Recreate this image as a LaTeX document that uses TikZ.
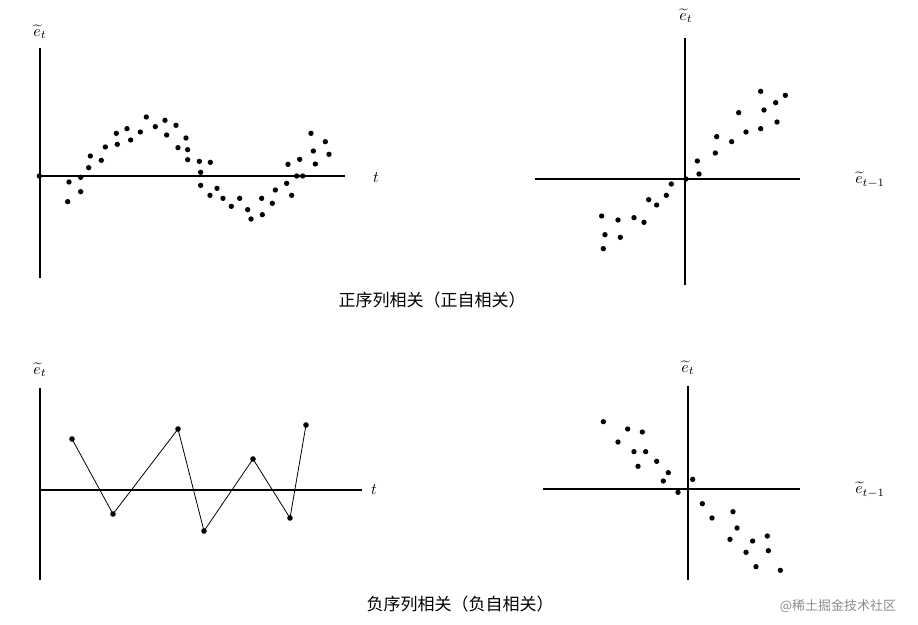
\documentclass[tikz,border=0pt]{standalone}
\usepackage{amsmath}
\usepackage{fontspec}
\newfontfamily\cjk{Noto Sans CJK SC}
\begin{document}
\begin{tikzpicture}[x=1pt,y=-1pt,
  axis/.style={line width=1.4pt},
  dot/.style={fill=black},
  lbl/.style={scale=1.6},
  caption/.style={font=\cjk\fontsize{17}{20}\selectfont}]
  \useasboundingbox (0,0) rectangle (918,624);

  % Top left: positive correlation over time
  \draw[axis] (40,48) -- (40,278);
  \draw[axis] (40,176) -- (345,176);
  \node[lbl] (tlY) at (40,32) {$\widetilde{e}_t$};
  \node[lbl] (tlX) at (376,178) {$t$};
  \begin{scope}[shift={(30,100)},scale=1/3]
    \foreach \p in {(28,228),(113,305),(117,246),(152,275),(152,232),(176,203),(181,168),(214,181),(226,141),(262,133),(259,100),(291,86),(302,120),(331,96),(349,51),(376,80),(405,61),(410,105),(438,76),(444,143),(468,114),(473,149),(473,179),(508,184),(512,217),(512,256),(541,187),(540,286),(561,265),(579,295),(604,319),(629,295),(653,329),(663,357),(695,295),(697,344),(727,310),(736,270),(770,250),(774,193),(785,286),(800,228),(809,178),(818,228),(843,100),(850,153),(856,192),(886,125),(897,163)}
      \fill[dot] \p circle (8);
  \end{scope}

  % Top right: e_t against e_{t-1}
  \draw[axis] (685,38) -- (685,285);
  \draw[axis] (535,179) -- (800,179);
  \node[lbl] (trY) at (686,16) {$\widetilde{e}_t$};
  \node[lbl] (trX) at (870,180) {$\widetilde{e}_{t-1}$};
  \begin{scope}[shift={(580,80)},scale=1/3]
    \foreach \p in {(65,408),(75,464),(70,506),(114,420),(121,472),(162,413),(192,427),(206,359),(230,375),(259,346),(274,312),(318,297),(352,243),(357,282),(406,219),(410,170),(455,185),(476,98),(498,156),(542,34),(542,146),(552,90),(587,68),(591,126),(616,46)}
      \fill[dot] \p circle (8);
  \end{scope}
  \node[caption] (capPos) at (432,300) {正序列相关（正自相关）};

  % Bottom left: negative correlation over time
  \draw[axis] (40,388) -- (40,580);
  \draw[axis] (40,490) -- (362,490);
  \node[lbl] (blY) at (40,370) {$\widetilde{e}_t$};
  \node[lbl] (blX) at (374,490) {$t$};
  \coordinate (p1) at (72,439);
  \coordinate (p2) at (113,514);
  \coordinate (p3) at (178,429);
  \coordinate (p4) at (204,531);
  \coordinate (p5) at (253,459);
  \coordinate (p6) at (290,518);
  \coordinate (p7) at (306,425);
  \draw[line width=0.8pt] (p1) -- (p2) -- (p3) -- (p4) -- (p5) -- (p6) -- (p7);
  \foreach \c in {p1,p2,p3,p4,p5,p6,p7}
    \fill[dot] (\c) circle (2.8);

  % Bottom right: e_t against e_{t-1}
  \draw[axis] (688,386) -- (688,580);
  \draw[axis] (543,489) -- (800,489);
  \node[lbl] (brY) at (688,368) {$\widetilde{e}_t$};
  \node[lbl] (brX) at (870,490) {$\widetilde{e}_{t-1}$};
  \begin{scope}[shift={(580,400)},scale=1/3]
    \foreach \p in {(70,65),(143,87),(187,96),(114,126),(162,155),(197,155),(174,199),(230,184),(265,218),(250,243),(294,277),(338,238),(367,311),(396,354),(459,335),(471,384),(450,418),(518,423),(562,408),(565,452),(498,457),(528,500),(601,511)}
      \fill[dot] \p circle (8);
  \end{scope}
  \node[caption] (capNeg) at (460,604) {负序列相关（负自相关）};
  \node[font=\cjk\fontsize{13}{15}\selectfont, text=black!45] (mark) at (838,606) {@稀土掘金技术社区};
\end{tikzpicture}
\end{document}
